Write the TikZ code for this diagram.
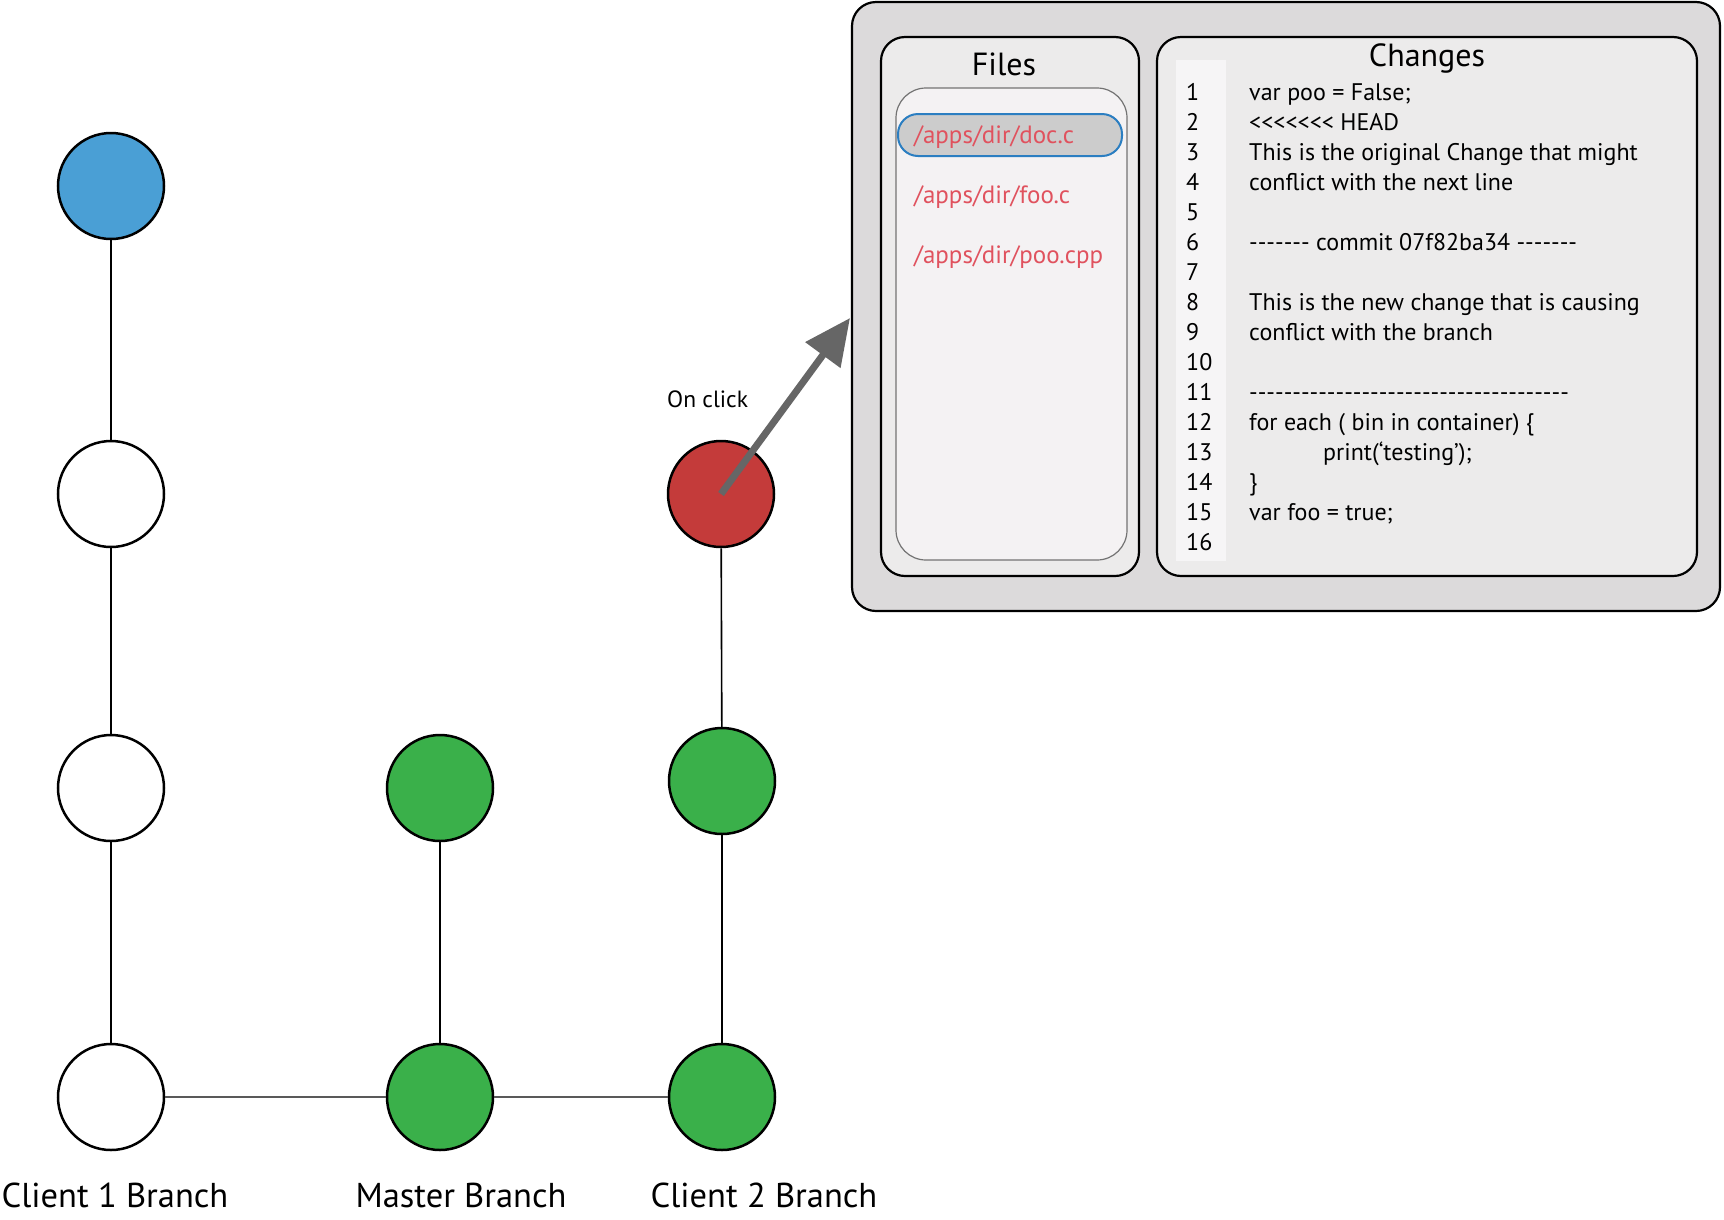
\documentclass[tikz,border=0pt]{standalone}
\usepackage{fontspec}
\setmainfont{PT Sans}[Ligatures=TeXOff]
\usetikzlibrary{arrows.meta}
\definecolor{cblue}{HTML}{4A9FD5}
\definecolor{cgreen}{HTML}{3AB04A}
\definecolor{cred}{HTML}{C43B3A}
\definecolor{outerfill}{HTML}{DCDADB}
\definecolor{panelfill}{HTML}{ECEBEB}
\definecolor{listfill}{HTML}{F4F2F3}
\definecolor{stripfill}{HTML}{F6F5F6}
\definecolor{selfill}{HTML}{CCCCCC}
\definecolor{selborder}{HTML}{2B7EC1}
\definecolor{filetext}{HTML}{E0525E}
\definecolor{arrowgray}{HTML}{666666}
\tikzset{
  commit/.style={circle,draw=black,line width=2.5pt,minimum size=106pt,inner sep=0pt},
  vlink/.style={line width=1.6pt,draw=black},
  hlink/.style={line width=2.2pt,draw=black!65},
  panelbox/.style={draw=black,line width=2.2pt,rounded corners=24pt,inner sep=0pt},
  branchlabel/.style={font=\fontsize{34.5}{40}\selectfont,anchor=base,inner sep=0pt},
  titletext/.style={font=\fontsize{32}{36}\selectfont,anchor=base,inner sep=0pt},
  filetxt/.style={font=\fontsize{25}{30}\selectfont,text=filetext,anchor=base west,inner sep=0pt},
  codetxt/.style={font=\fontsize{24}{29}\selectfont,anchor=base west,inner sep=0pt},
}
\begin{document}
\begin{tikzpicture}[x=1pt,y=-1pt]
\useasboundingbox (0,0) rectangle (1724,1219);
% panel
\node[panelbox,fill=outerfill,minimum width=868pt,minimum height=609pt] (outer) at (1286,306.5) {};
\node[panelbox,fill=panelfill,minimum width=258pt,minimum height=539pt] (files) at (1010,306.5) {};
\node[panelbox,fill=panelfill,minimum width=540pt,minimum height=539pt] (changes) at (1427,306.5) {};
\node[draw=black!55,line width=1.2pt,fill=listfill,rounded corners=30pt,minimum width=231pt,minimum height=472pt,inner sep=0pt] (list) at (1011.5,324) {};
\node[draw=selborder,line width=2pt,fill=selfill,rounded corners=20pt,minimum width=224pt,minimum height=42pt,inner sep=0pt] (sel) at (1010,135) {};
\node[fill=stripfill,minimum width=50pt,minimum height=501pt,inner sep=0pt] (strip) at (1201,310.5) {};
\node[titletext] (filestitle) at (1004,75) {Files};
\node[titletext] (changestitle) at (1427,66) {Changes};
\node[filetxt] (f1) at (914,143) {/apps/dir/doc.c};
\node[filetxt] (f2) at (914,203) {/apps/dir/foo.c};
\node[filetxt] (f3) at (914,263) {/apps/dir/poo.cpp};
\foreach \i in {1,...,16}
  \node[codetxt] (n\i) at (1186,{100+(\i-1)*30}) {\i};
\node[codetxt] (l1) at (1249,100) {var poo = False;};
\node[codetxt] (l2) at (1249,130) {<<<<<<< HEAD};
\node[codetxt] (l3) at (1249,160) {This is the original Change that might};
\node[codetxt] (l4) at (1249,190) {conflict with the next line};
\node[codetxt] (l6) at (1249,250) {------- commit 07f82ba34 -------};
\node[codetxt] (l8) at (1249,310) {This is the new change that is causing};
\node[codetxt] (l9) at (1249,340) {conflict with the branch};
\node[codetxt] (l11) at (1249,400) {-------------------------------------};
\node[codetxt] (l12) at (1249,430) {for each ( bin in container) \{};
\node[codetxt] (l13) at (1323,460) {print(‘testing’);};
\node[codetxt] (l14) at (1249,490) {\}};
\node[codetxt] (l15) at (1249,520) {var foo = true;};
% commits
\node[commit,fill=cblue] (c1a) at (111,186) {};
\node[commit,fill=white] (c1b) at (111,494) {};
\node[commit,fill=white] (c1c) at (111,788) {};
\node[commit,fill=white] (c1d) at (111,1097) {};
\node[commit,fill=cgreen] (m1) at (440,788) {};
\node[commit,fill=cgreen] (m2) at (440,1097) {};
\node[commit,fill=cred] (r) at (721,494) {};
\node[commit,fill=cgreen] (g1) at (722,781) {};
\node[commit,fill=cgreen] (g2) at (722,1097) {};
\draw[vlink] (c1a) -- (c1b);
\draw[vlink] (c1b) -- (c1c);
\draw[vlink] (c1c) -- (c1d);
\draw[vlink] (m1) -- (m2);
\draw[vlink] (r) -- (g1);
\draw[vlink] (g1) -- (g2);
\draw[hlink] (c1d) -- (m2);
\draw[hlink] (m2) -- (g2);
% labels
\node[branchlabel] (lab1) at (115,1207) {Client 1 Branch};
\node[branchlabel] (lab2) at (461,1207) {Master Branch};
\node[branchlabel] (lab3) at (764,1207) {Client 2 Branch};
\node[font=\fontsize{23.5}{28}\selectfont,anchor=base west,inner sep=0pt] (onclick) at (667,407) {On click};
% arrow
\coordinate (clicktip) at (850,318);
\draw[line width=7pt,draw=arrowgray,-{Triangle[length=46pt,width=42pt,fill=arrowgray]}] (r.center) -- (clicktip);
\end{tikzpicture}
\end{document}
